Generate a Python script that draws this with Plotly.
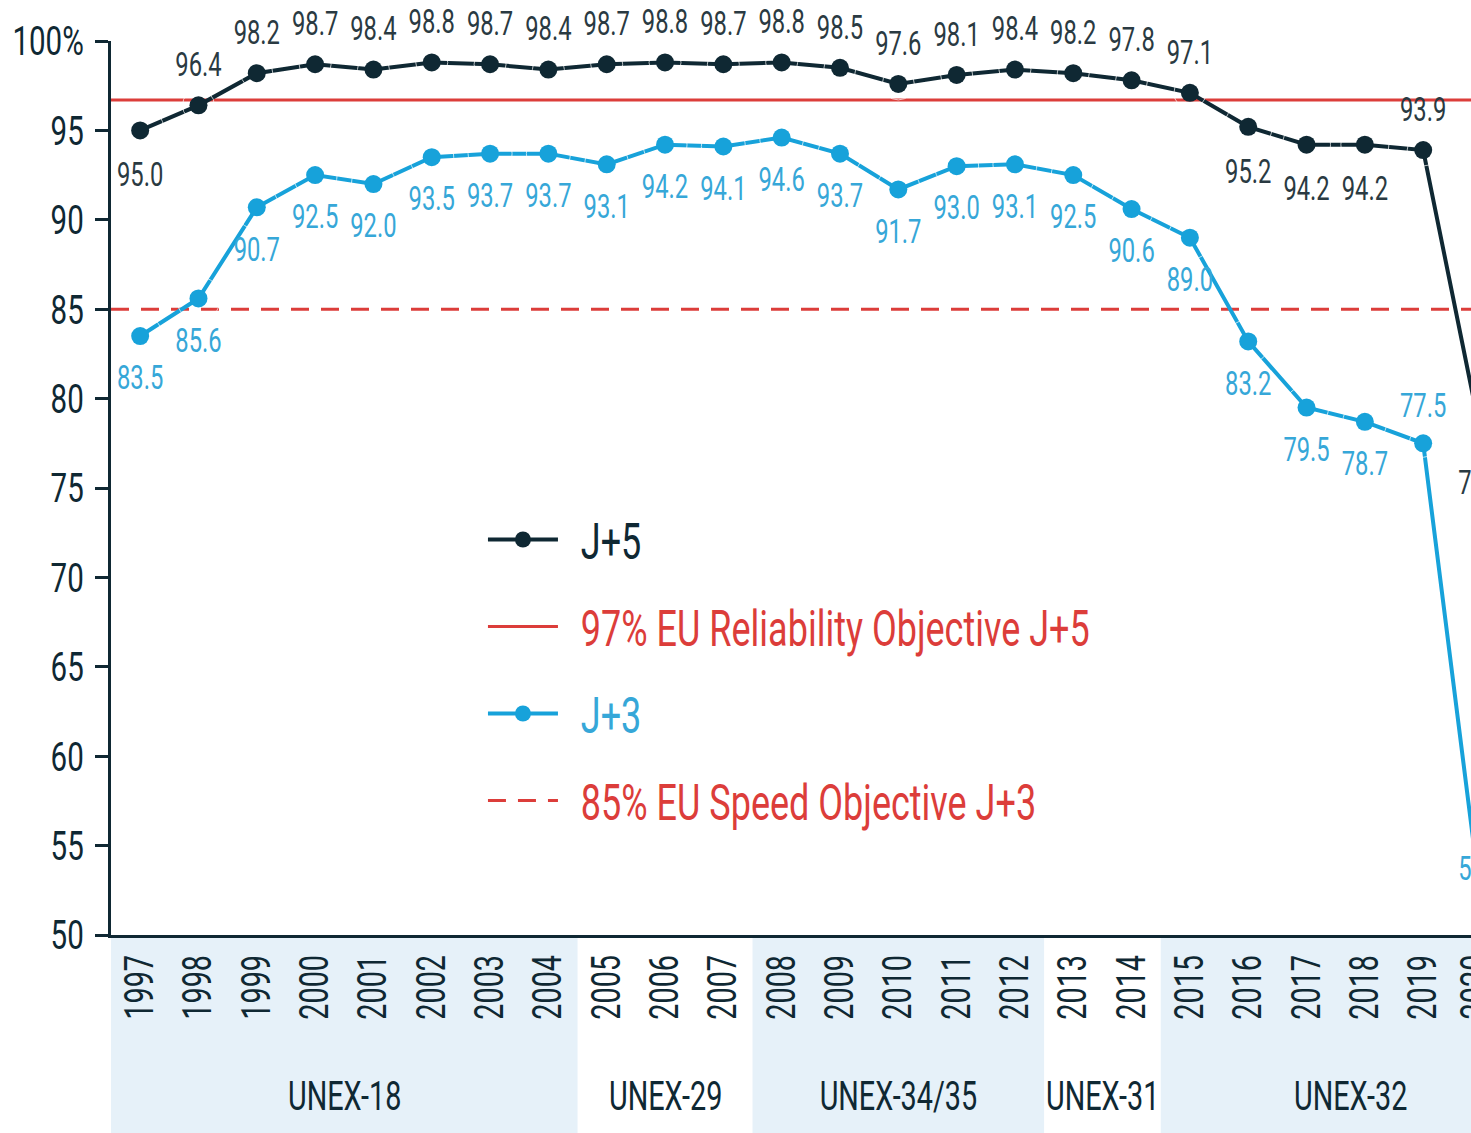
import plotly.graph_objects as go

years = list(range(1997, 2021))
j5 = [95.0, 96.4, 98.2, 98.7, 98.4, 98.8, 98.7, 98.4, 98.7, 98.8, 98.7, 98.8,
      98.5, 97.6, 98.1, 98.4, 98.2, 97.8, 97.1, 95.2, 94.2, 94.2, 93.9, 77.8]
j3 = [83.5, 85.6, 90.7, 92.5, 92.0, 93.5, 93.7, 93.7, 93.1, 94.2, 94.1, 94.6,
      93.7, 91.7, 93.0, 93.1, 92.5, 90.6, 89.0, 83.2, 79.5, 78.7, 77.5, 51.6]
j5_pos = (["bottom center"] + ["top center"] * 18 + ["bottom center"] * 3
          + ["top center", "bottom center"])
j3_pos = ["bottom center"] * 22 + ["top center"] * 2

reliability_obj = 96.7
speed_obj = 85.0

groups = ["UNEX-18", "UNEX-29", "UNEX-34/35", "UNEX-31", "UNEX-32"]
group_start = [1997, 2005, 2008, 2013, 2015]
group_end = [2004, 2007, 2012, 2014, 2020]
group_shaded = [True, False, True, False, True]

y_ticks = [50, 55, 60, 65, 70, 75, 80, 85, 90, 95, 100]
y_ticktext = ["50", "55", "60", "65", "70", "75", "80", "85", "90", "95", "100%"]

FONT = "Roboto, Liberation Sans, sans-serif"
NAVY = "#0f2833"
BLUE = "#17a2da"
BLUE_TXT = "#36a7d8"
RED = "#dc3d3a"
BAND = "#e6f1f9"
NB = "\u00a0\u00a0"

x_lo = years[0] - 0.5
x_hi = 2019.82

# invisible spacer size (label distance from point) per label position
j5_gap = {"top center": 32, "bottom center": 48}
j3_gap = {"top center": 28, "bottom center": 44}

fig = go.Figure()

fig.add_trace(go.Scatter(
    x=[x_lo, years[-1] + 0.5], y=[reliability_obj, reliability_obj],
    mode="lines", legendgroup="b", legendrank=2,
    name=f'<span style="color:{RED}">{NB}97% EU Reliability Objective J+5</span>',
    line=dict(color=RED, width=3),
))
fig.add_trace(go.Scatter(
    x=[x_lo, years[-1] + 0.5], y=[speed_obj, speed_obj],
    mode="lines", legendgroup="d", legendrank=4,
    name=f'<span style="color:{RED}">{NB}85% EU Speed Objective J+3</span>',
    line=dict(color=RED, width=3, dash="18px,12px"),
))
fig.add_trace(go.Scatter(
    x=years, y=j5, mode="lines+markers", name=f"{NB}J+5",
    legendgroup="a", legendrank=1,
    line=dict(color=NAVY, width=4), marker=dict(color=NAVY, size=18),
    cliponaxis=False,
))
fig.add_trace(go.Scatter(
    x=years, y=j3, mode="lines+markers",
    name=f'<span style="color:{BLUE_TXT}">{NB}J+3</span>',
    legendgroup="c", legendrank=3,
    line=dict(color=BLUE, width=4), marker=dict(color=BLUE, size=18),
    cliponaxis=False,
))

for vals, pos, gap, color in ((j5, j5_pos, j5_gap, "#2a3a42"),
                              (j3, j3_pos, j3_gap, BLUE_TXT)):
    fig.add_trace(go.Scatter(
        x=years, y=vals, mode="markers+text", showlegend=False, hoverinfo="skip",
        marker=dict(size=[gap[p] for p in pos], color="rgba(0,0,0,0)"),
        text=[f"{v:.1f}" for v in vals], textposition=pos,
        textfont=dict(family=FONT, size=33, color=color),
        cliponaxis=False,
    ))

shapes = []
annotations = []
for g, s, e, sh in zip(groups, group_start, group_end, group_shaded):
    if sh:
        shapes.append(dict(type="rect", xref="x", yref="paper",
                           x0=s - 0.5, x1=e + 0.5, y0=-0.25, y1=0,
                           fillcolor=BAND, line=dict(width=0), layer="below"))
    annotations.append(dict(xref="x", yref="paper",
                            x=(s + e) / 2 + (0.25 if g == "UNEX-32" else 0),
                            y=-0.181, text=g, showarrow=False,
                            font=dict(family=FONT, size=40, color=NAVY),
                            xanchor="center", yanchor="middle"))

# tick label of the last year, which sits just past the cropped right edge
annotations.append(dict(xref="paper", yref="paper",
                        x=(years[-1] - x_lo) / (x_hi - x_lo), y=-0.0576,
                        xshift=-6, text=str(years[-1]), textangle=-90,
                        showarrow=False, xanchor="center", yanchor="middle",
                        font=dict(family=FONT, size=40, color=NAVY)))

fig.update_layout(
    width=1471, height=1133,
    margin=dict(l=111, r=0, t=41, b=198),
    paper_bgcolor="white", plot_bgcolor="white",
    font=dict(family=FONT, color=NAVY),
    shapes=shapes, annotations=annotations,
    legend=dict(x=0.2735, y=0.486, xanchor="left", yanchor="top",
                bgcolor="rgba(0,0,0,0)", font=dict(family=FONT, size=50, color=NAVY),
                tracegroupgap=19, traceorder="grouped", itemwidth=70),
    xaxis=dict(range=[x_lo, x_hi], tickmode="array", tickvals=years,
               ticktext=[str(y) for y in years], tickangle=-90,
               tickfont=dict(family=FONT, size=40, color=NAVY),
               showgrid=False, zeroline=False, showline=True, automargin=False,
               linecolor=NAVY, linewidth=3, ticks="", ticklabelstandoff=1),
    yaxis=dict(range=[50, 100], tickmode="array", tickvals=y_ticks, ticktext=y_ticktext,
               tickfont=dict(family=FONT, size=41, color=NAVY),
               showgrid=False, zeroline=False, showline=True, automargin=False,
               linecolor=NAVY, linewidth=3, ticks="outside", ticklen=13,
               tickwidth=3, tickcolor=NAVY, ticklabelstandoff=3),
)

squeeze_js = """
document.body.style.margin = '0px';
(function(){
  var gd = document.getElementById('{plot_id}');
  // show the value labels of the last (cropped) year at the right edge
  gd.querySelectorAll('g.textpoint, g.textpoint text').forEach(function(el){
    el.style.display = '';
    el.removeAttribute('display');
  });
  gd.querySelectorAll('svg.main-svg text').forEach(function(t){
    var L = t.getComputedTextLength();
    if (L > 0) {
      t.setAttribute('textLength', (L * 0.72).toFixed(2));
      t.setAttribute('lengthAdjust', 'spacingAndGlyphs');
    }
  });
})();
"""

fig.write_html("out.html", post_script=squeeze_js,
               config={"displayModeBar": False})
